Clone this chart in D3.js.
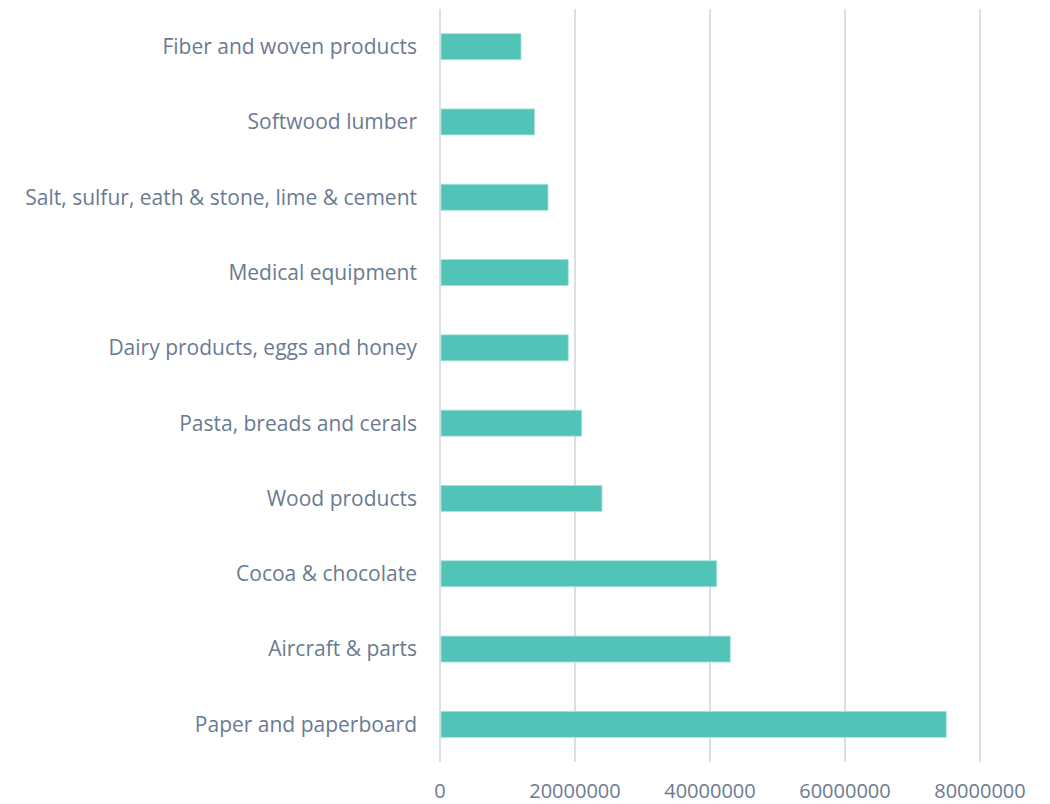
<!DOCTYPE html>
<html>
<head>
<meta charset="utf-8">
<script src="https://cdn.jsdelivr.net/npm/d3@7"></script>
<style>
  body { margin: 0; background: #fff; }
  svg { display: block; }
</style>
</head>
<body>
<script>
// categories, top to bottom
const categories = [
  "Fiber and woven products",
  "Softwood lumber",
  "Salt, sulfur, eath & stone, lime & cement",
  "Medical equipment",
  "Dairy products, eggs and honey ",
  "Pasta, breads and cerals",
  "Wood products",
  "Cocoa & chocolate",
  "Aircraft & parts",
  "Paper and paperboard"
];
const values = [12000000, 14000000, 16000000, 19000000, 19000000, 21000000, 24000000, 41000000, 43000000, 75000000];
const ticks = [0, 20000000, 40000000, 60000000, 80000000];

const width = 1050, height = 804;
const margin = {top: 9, right: 70, bottom: 42, left: 440};

const svg = d3.select("body").append("svg")
    .attr("width", width)
    .attr("height", height)
    .style("font-family", "'Open Sans', sans-serif");

const x = d3.scaleLinear()
    .domain([0, 80000000])
    .range([margin.left, margin.left + 540]);

const y = d3.scaleBand()
    .domain(categories)
    .range([margin.top, height - margin.bottom])
    .paddingInner(0.655)
    .paddingOuter(0.3275);

// gridlines
svg.append("g")
  .selectAll("line")
  .data(ticks)
  .join("line")
    .attr("x1", d => x(d)).attr("x2", d => x(d))
    .attr("y1", margin.top).attr("y2", height - margin.bottom)
    .attr("stroke", "#dcdfe3")
    .attr("stroke-width", 2);

// bars
svg.append("g")
  .selectAll("rect")
  .data(values)
  .join("rect")
    .attr("x", x(0) + 1)
    .attr("y", (d, i) => y(categories[i]))
    .attr("width", d => x(d) - x(0) - 1)
    .attr("height", y.bandwidth())
    .attr("fill", "#51c3b7")
    .attr("stroke", "#a8e3dc")
    .attr("stroke-width", 0.8);

// category labels
svg.append("g")
    .attr("text-anchor", "end")
  .selectAll("text")
  .data(categories)
  .join("text")
    .attr("x", margin.left - 23)
    .attr("y", d => y(d) + y.bandwidth() / 2)
    .attr("dy", "0.35em")
    .attr("fill", "#6a7b91")
    .style("font-size", "21px")
    .text(d => d);

// x tick labels
svg.append("g")
    .attr("text-anchor", "middle")
  .selectAll("text")
  .data(ticks)
  .join("text")
    .attr("x", d => x(d))
    .attr("y", 798)
    .attr("fill", "#6a7b91")
    .style("font-size", "20px")
    .text(d => d3.format("d")(d));
</script>
</body>
</html>
